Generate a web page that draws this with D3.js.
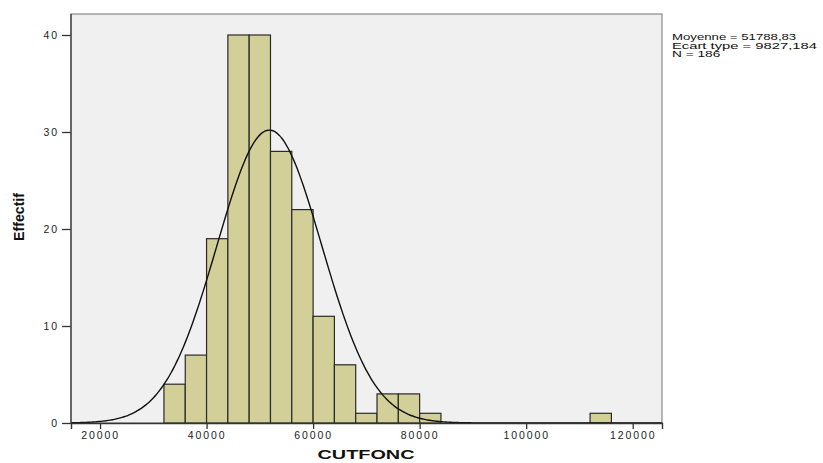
<!DOCTYPE html>
<html>
<head>
<meta charset="utf-8">
<script src="https://cdn.jsdelivr.net/npm/d3@7"></script>
<style>
  body { margin: 0; background: #fff; }
  svg { display: block; font-family: "Liberation Sans", Arial, sans-serif; }
</style>
</head>
<body>
<svg id="chart" width="823" height="463"></svg>
<script>
// histogram bins (lower edge of each bin, width 4000) and counts
const binStarts = [32000, 36000, 40000, 44000, 48000, 52000, 56000, 60000, 64000, 68000, 72000, 76000, 80000, 112000];
const counts    = [4, 7, 19, 40, 40, 28, 22, 11, 6, 1, 3, 3, 1, 1];
const binWidth = 4000;

const xTicks = [20000, 40000, 60000, 80000, 100000, 120000];
const yTicks = [0, 10, 20, 30, 40];

const meanVal = 51788.83;
const sdVal = 9827.184;
const nVal = 186;
const statLines = ["Moyenne = 51788,83", "Ecart type = 9827,184", "N = 186"];

const svg = d3.select("#chart");
const margin = { top: 14, right: 161, bottom: 40, left: 71 };
const W = 823, H = 463;

const x = d3.scaleLinear()
  .domain([14550, 125500])
  .range([margin.left, W - margin.right]);

const y = d3.scaleLinear()
  .domain([0, 40])
  .range([H - margin.bottom, 35]);

// plot background
svg.append("rect")
  .attr("x", margin.left)
  .attr("y", margin.top)
  .attr("width", W - margin.right - margin.left)
  .attr("height", H - margin.bottom - margin.top)
  .attr("fill", "#f0f0f0")
  .attr("stroke", "#8a8a8a")
  .attr("stroke-width", 1.2);

// bars
const bins = binStarts.map((s, i) => ({ x0: s, x1: s + binWidth, n: counts[i] }));
svg.selectAll(".bar")
  .data(bins)
  .enter()
  .append("rect")
  .attr("class", "bar")
  .attr("x", d => x(d.x0))
  .attr("y", d => y(d.n))
  .attr("width", d => x(d.x1) - x(d.x0))
  .attr("height", d => y(0) - y(d.n))
  .attr("fill", "#d3cf98")
  .attr("stroke", "#2a2a2a")
  .attr("stroke-width", 1.2);

// normal curve from the stated mean / sd
const pdf = v => nVal * binWidth / (sdVal * Math.sqrt(2 * Math.PI)) *
  Math.exp(-0.5 * Math.pow((v - meanVal) / sdVal, 2));
const curvePts = d3.range(0, 301).map(i => {
  const v = x.domain()[0] + i * (x.domain()[1] - x.domain()[0]) / 300;
  return [v, pdf(v)];
});
svg.append("path")
  .datum(curvePts)
  .attr("fill", "none")
  .attr("stroke", "#111")
  .attr("stroke-width", 1.4)
  .attr("d", d3.line().x(d => x(d[0])).y(d => y(d[1])).curve(d3.curveBasis));

// axes
const xAxis = svg.append("g")
  .attr("transform", `translate(0,${H - margin.bottom})`)
  .call(d3.axisBottom(x).tickValues(xTicks).tickSize(6).tickPadding(3).tickFormat(d3.format("d")));
xAxis.select(".domain").attr("stroke", "#333").attr("stroke-width", 1.4);

const yAxis = svg.append("g")
  .attr("transform", `translate(${margin.left},0)`)
  .call(d3.axisLeft(y).tickValues(yTicks).tickSize(9).tickPadding(3));
yAxis.select(".domain").remove();
svg.append("line")
  .attr("x1", margin.left).attr("x2", margin.left)
  .attr("y1", margin.top).attr("y2", H - margin.bottom)
  .attr("stroke", "#444").attr("stroke-width", 1.4);

svg.selectAll(".tick line").attr("stroke", "#333").attr("stroke-width", 1.3);
svg.selectAll(".tick text")
  .attr("fill", "#222")
  .style("font-size", "10.5px")
  .style("letter-spacing", "1.9px")
  .style("font-family", "'Liberation Sans', Arial, sans-serif");

// axis titles
svg.append("text")
  .attr("x", 366)
  .attr("y", 459)
  .attr("text-anchor", "middle")
  .attr("font-weight", "bold")
  .attr("font-size", 12)
  .attr("textLength", 97)
  .attr("lengthAdjust", "spacingAndGlyphs")
  .attr("fill", "#111")
  .text("CUTFONC");

svg.append("text")
  .attr("transform", "translate(24,217) rotate(-90)")
  .attr("text-anchor", "middle")
  .attr("font-weight", "bold")
  .attr("font-size", 14)
  .attr("textLength", 48)
  .attr("lengthAdjust", "spacingAndGlyphs")
  .attr("fill", "#111")
  .text("Effectif");

// stats box text
svg.selectAll(".stat")
  .data(statLines)
  .enter()
  .append("text")
  .attr("class", "stat")
  .attr("x", 672)
  .attr("y", (d, i) => 40 + i * 8.5)
  .attr("font-size", 8.5)
  .attr("textLength", d => d.length * 6.9)
  .attr("lengthAdjust", "spacingAndGlyphs")
  .attr("fill", "#111")
  .text(d => d);
</script>
</body>
</html>
